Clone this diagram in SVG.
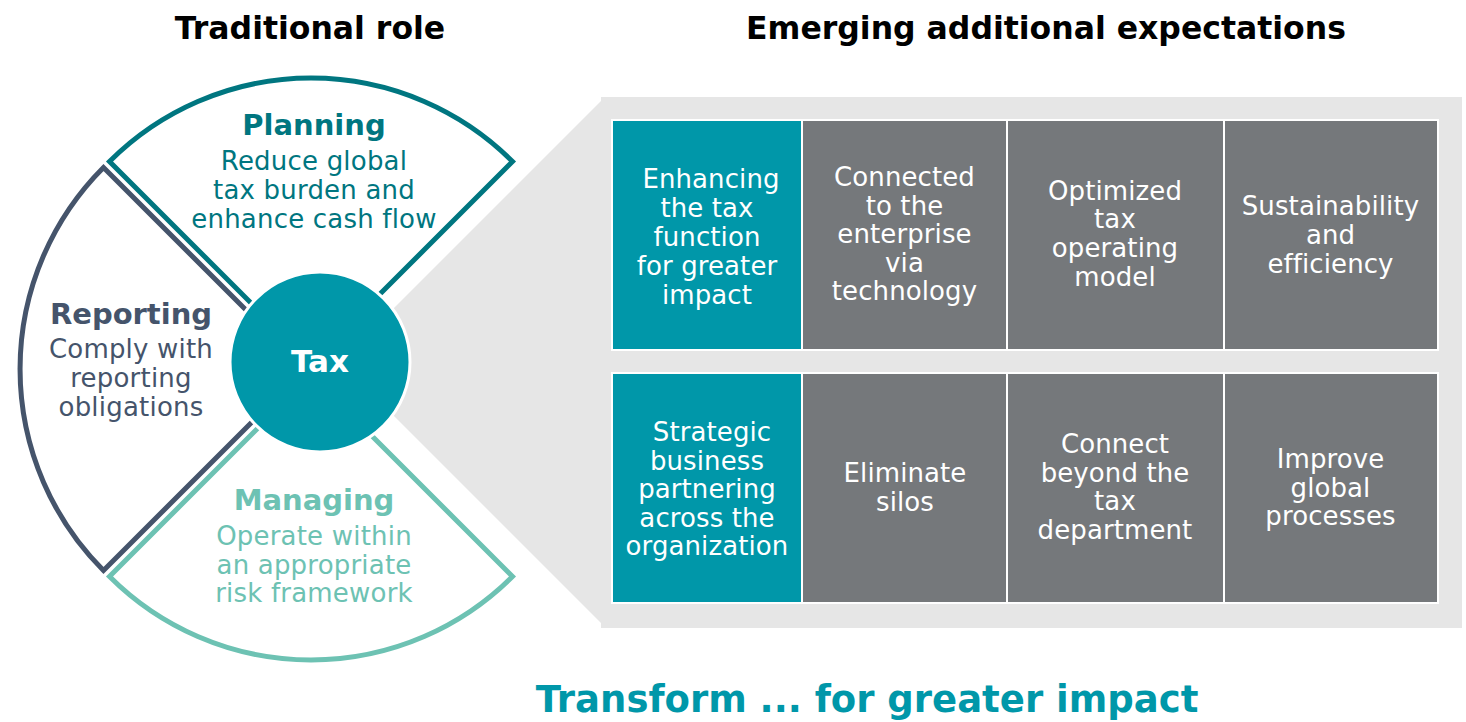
<svg xmlns="http://www.w3.org/2000/svg" width="1466" height="722" viewBox="0 0 1466 722">
<style>
text{font-family:"DejaVu Sans","Verdana",sans-serif;text-anchor:middle}
.title{font-size:31.5px;font-weight:bold;fill:#000}
.head{font-size:29px;font-weight:bold}
.body{font-size:26px;letter-spacing:0.2px}
.box{font-size:26px;fill:#fff;letter-spacing:0.1px}
.wedge{fill:#fff;stroke-width:5;stroke-linejoin:miter;stroke-miterlimit:10}
.teal{fill:#0097A9;stroke:#fff;stroke-width:2}
.gray{fill:#75787B;stroke:#fff;stroke-width:2}
</style>
<rect width="1466" height="722" fill="#fff"/>
<text class="title" x="310" y="39">Traditional role</text>
<text class="title" x="1046" y="39">Emerging additional expectations</text>

<polygon id="backdrop" points="340,362 601,101 601,97 1462,97 1462,628 601,628 601,623" fill="#E6E6E6"/>

<g id="connectors"></g>

<g id="planning">
<path class="wedge" stroke="#007680" d="M311 363 L109.5 161.5 A285 285 0 0 1 512.5 161.5 Z"/>
<text class="head" x="314" y="135" fill="#007680">Planning</text>
<text class="body" x="314" y="170" fill="#007680">Reduce global</text>
<text class="body" x="314" y="199" fill="#007680">tax burden and</text>
<text class="body" x="314" y="228" fill="#007680">enhance cash flow</text>
</g>
<g id="reporting">
<path class="wedge" stroke="#45546B" d="M305 369 L103.5 167.5 A285 285 0 0 0 103.5 570.5 Z"/>
<text class="head" x="131" y="324" fill="#45546B">Reporting</text>
<text class="body" x="131" y="358" fill="#45546B">Comply with</text>
<text class="body" x="131" y="387" fill="#45546B">reporting</text>
<text class="body" x="131" y="416" fill="#45546B">obligations</text>
</g>
<g id="managing">
<path class="wedge" stroke="#6DC2B3" d="M311 375 L109.5 576.5 A285 285 0 0 0 512.5 576.5 Z"/>
<text class="head" x="314" y="510" fill="#6DC2B3">Managing</text>
<text class="body" x="314" y="545" fill="#6DC2B3">Operate within</text>
<text class="body" x="314" y="574" fill="#6DC2B3">an appropriate</text>
<text class="body" x="314" y="602" fill="#6DC2B3">risk framework</text>
</g>
<g id="tax">
<circle cx="320" cy="362" r="90" fill="#0097A9" stroke="#fff" stroke-width="3"/>
<text x="320" y="372" font-size="31px" font-weight="bold" fill="#fff">Tax</text>
</g>

<g id="box-enhancing">
<rect class="teal" x="612" y="120" width="190" height="230"/>
<text class="box" x="711" y="188">Enhancing</text>
<text class="box" x="707" y="217">the tax</text>
<text class="box" x="707" y="246">function</text>
<text class="box" x="707" y="275">for greater</text>
<text class="box" x="707" y="304">impact</text>
</g>
<g id="box-connected">
<rect class="gray" x="802" y="120" width="205" height="230"/>
<text class="box" x="904.5" y="186">Connected</text>
<text class="box" x="904.5" y="215">to the</text>
<text class="box" x="904.5" y="243">enterprise</text>
<text class="box" x="904.5" y="272">via</text>
<text class="box" x="904.5" y="300">technology</text>
</g>
<g id="box-optimized">
<rect class="gray" x="1007" y="120" width="217" height="230"/>
<text class="box" x="1115" y="200">Optimized</text>
<text class="box" x="1115" y="228">tax</text>
<text class="box" x="1115" y="257">operating</text>
<text class="box" x="1115" y="286">model</text>
</g>
<g id="box-sustainability">
<rect class="gray" x="1224" y="120" width="214" height="230"/>
<text class="box" x="1330.5" y="215">Sustainability</text>
<text class="box" x="1330.5" y="244">and</text>
<text class="box" x="1330.5" y="273">efficiency</text>
</g>

<g id="box-strategic">
<rect class="teal" x="612" y="373" width="190" height="230"/>
<text class="box" x="712" y="441">Strategic</text>
<text class="box" x="707" y="470">business</text>
<text class="box" x="707" y="498">partnering</text>
<text class="box" x="707" y="527">across the</text>
<text class="box" x="707" y="555">organization</text>
</g>
<g id="box-eliminate">
<rect class="gray" x="802" y="373" width="205" height="230"/>
<text class="box" x="905" y="482">Eliminate</text>
<text class="box" x="905" y="511">silos</text>
</g>
<g id="box-connect">
<rect class="gray" x="1007" y="373" width="217" height="230"/>
<text class="box" x="1115" y="453">Connect</text>
<text class="box" x="1115" y="482">beyond the</text>
<text class="box" x="1115" y="510">tax</text>
<text class="box" x="1115" y="539">department</text>
</g>
<g id="box-improve">
<rect class="gray" x="1224" y="373" width="214" height="230"/>
<text class="box" x="1330.5" y="468">Improve</text>
<text class="box" x="1330.5" y="497">global</text>
<text class="box" x="1330.5" y="525">processes</text>
</g>

<text x="867" y="712" font-size="37px" font-weight="bold" fill="#0097A9">Transform ... for greater impact</text>
</svg>
